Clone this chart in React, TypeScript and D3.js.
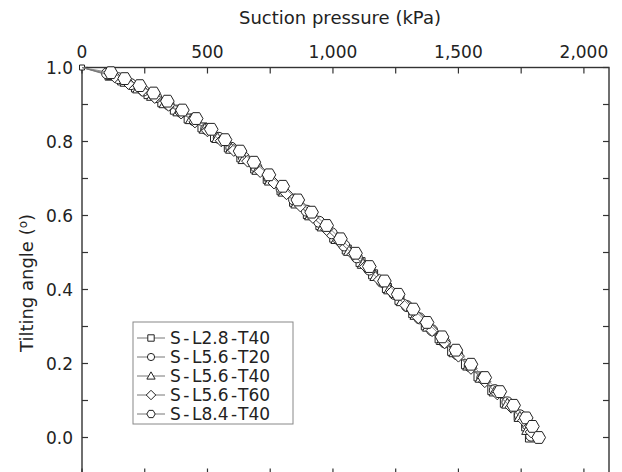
import React, { useRef, useEffect } from "react";
import * as d3 from "d3";

// [suction pressure (kPa), tilting angle (deg)]
const sL28T40 = [
  [0, 1.0], [110, 0.978], [160, 0.965], [215, 0.946], [265, 0.928], [320, 0.906], [370, 0.886],
  [425, 0.862], [480, 0.838], [530, 0.812], [585, 0.784], [635, 0.757], [690, 0.727], [740, 0.699],
  [795, 0.668], [845, 0.637], [900, 0.604], [950, 0.574], [1005, 0.54], [1055, 0.508], [1110, 0.474],
  [1160, 0.441], [1215, 0.404], [1265, 0.372], [1320, 0.336], [1370, 0.303], [1425, 0.268],
  [1475, 0.234], [1530, 0.198], [1580, 0.165], [1635, 0.128], [1685, 0.094], [1740, 0.058],
  [1770, 0.03], [1785, 0.0],
];
const sL56T20 = [
  [100, 0.984], [145, 0.971], [195, 0.955], [245, 0.938], [295, 0.92], [345, 0.9],
  [395, 0.88], [445, 0.858], [495, 0.834], [545, 0.81], [595, 0.783], [645, 0.757], [695, 0.73],
  [745, 0.702], [795, 0.673], [845, 0.643], [895, 0.613], [945, 0.583], [995, 0.552], [1045, 0.519],
  [1095, 0.487], [1145, 0.454], [1195, 0.421], [1245, 0.388], [1295, 0.355], [1345, 0.322],
  [1395, 0.29], [1445, 0.257], [1495, 0.225], [1545, 0.193], [1595, 0.161], [1645, 0.128],
  [1695, 0.095], [1745, 0.06], [1775, 0.035], [1790, 0.005],
];
const sL56T40 = [
  [120, 0.979], [175, 0.961], [225, 0.943], [280, 0.923], [330, 0.903], [385, 0.881],
  [435, 0.86], [490, 0.834], [540, 0.809], [595, 0.78], [645, 0.752], [700, 0.723], [750, 0.694],
  [805, 0.664], [855, 0.632], [910, 0.6], [960, 0.57], [1015, 0.536], [1065, 0.504], [1120, 0.469],
  [1170, 0.436], [1225, 0.4], [1275, 0.368], [1330, 0.331], [1380, 0.299], [1435, 0.263],
  [1485, 0.23], [1540, 0.194], [1590, 0.161], [1645, 0.124], [1695, 0.091], [1745, 0.055],
  [1775, 0.02],
];
const sL56T60 = [
  [130, 0.975], [185, 0.957], [240, 0.938], [290, 0.919], [345, 0.898], [395, 0.877],
  [450, 0.853], [500, 0.829], [555, 0.802], [605, 0.776], [660, 0.747], [710, 0.719], [765, 0.688],
  [815, 0.659], [870, 0.626], [920, 0.595], [975, 0.562], [1025, 0.53], [1080, 0.495], [1130, 0.462],
  [1185, 0.426], [1235, 0.393], [1290, 0.357], [1340, 0.324], [1395, 0.289], [1445, 0.256],
  [1500, 0.22], [1550, 0.187], [1605, 0.151], [1655, 0.118], [1710, 0.082], [1760, 0.046],
  [1790, 0.015],
];
const sL84T40 = [
  [115, 0.986], [170, 0.97], [230, 0.951], [285, 0.931], [340, 0.909], [400, 0.885],
  [455, 0.862], [515, 0.833], [570, 0.805], [630, 0.774], [685, 0.744], [745, 0.71], [800, 0.679],
  [860, 0.642], [915, 0.609], [975, 0.573], [1030, 0.537], [1090, 0.498], [1145, 0.462],
  [1205, 0.423], [1260, 0.387], [1320, 0.347], [1375, 0.311], [1435, 0.272], [1490, 0.236],
  [1550, 0.198], [1605, 0.162], [1665, 0.124], [1720, 0.087], [1770, 0.053], [1795, 0.03],
  [1820, 0.0],
];

const seriesNames = ["S-L2.8-T40", "S-L5.6-T20", "S-L5.6-T40", "S-L5.6-T60", "S-L8.4-T40"];
const seriesData = [sL28T40, sL56T20, sL56T40, sL56T60, sL84T40];
const markerKinds = ["square", "circle", "triangle", "diamond", "hexagon"];

const xTicks = [0, 500, 1000, 1500, 2000];
const yTicks = [0, 0.2, 0.4, 0.6, 0.8, 1.0];

const font = "'DejaVu Sans', Arial, sans-serif";

// marker outline as a path string centred on 0,0
const markerPath = (kind: string, s: number) => {
  if (kind === "square") return `M${-s},${-s}H${s}V${s}H${-s}Z`;
  if (kind === "circle") return d3.symbol(d3.symbolCircle, Math.PI * s * s)() as string;
  if (kind === "triangle") {
    const h = s * 1.15;
    return `M0,${-h}L${h},${h * 0.75}L${-h},${h * 0.75}Z`;
  }
  if (kind === "diamond") {
    const d = s * 1.25;
    return `M0,${-d}L${d},0L0,${d}L${-d},0Z`;
  }
  const pts = d3.range(6).map((i) => {
    const a = (Math.PI / 3) * i;
    return [s * Math.cos(a), s * Math.sin(a)];
  });
  return "M" + pts.map((p) => p.join(",")).join("L") + "Z";
};

const plotSize: Record<string, number> = { square: 4.5, circle: 5.5, triangle: 5, diamond: 4.8, hexagon: 6.8 };
const legendSize: Record<string, number> = { square: 3.2, circle: 3.6, triangle: 3.6, diamond: 3.8, hexagon: 4.2 };

const App = () => {
  const svgRef = useRef<SVGSVGElement>(null);

  useEffect(() => {
    const width = 622;
    const height = 472;
    const left = 82;
    const right = 609;
    const top = 67.5;
    const bottom = 474.5;

    const svg = d3.select(svgRef.current);
    svg.selectAll("*").remove();
    svg.attr("width", width).attr("height", height);

    const x = d3.scaleLinear().domain([0, 2100]).range([left, right]);
    const y = d3.scaleLinear().domain([-0.1, 1.0]).range([bottom, top]);

    const axisColor = "#333";

    // frame
    svg.append("rect")
      .attr("x", left).attr("y", top)
      .attr("width", right - left).attr("height", bottom - top)
      .attr("fill", "none").attr("stroke", axisColor).attr("stroke-width", 1.4);

    // ticks (inward, every 250 kPa / 0.1)
    const xTickVals = d3.range(0, 2001, 250);
    const yTickVals = d3.range(-0.1, 1.001, 0.1);
    const tickLen = 6;
    const ticks = svg.append("g").attr("stroke", axisColor).attr("stroke-width", 1.2);
    xTickVals.forEach((v) => {
      ticks.append("line").attr("x1", x(v)).attr("x2", x(v)).attr("y1", top).attr("y2", top + tickLen);
      ticks.append("line").attr("x1", x(v)).attr("x2", x(v)).attr("y1", bottom).attr("y2", bottom - tickLen);
    });
    yTickVals.forEach((v) => {
      ticks.append("line").attr("x1", left).attr("x2", left + tickLen).attr("y1", y(v)).attr("y2", y(v));
      ticks.append("line").attr("x1", right).attr("x2", right - tickLen).attr("y1", y(v)).attr("y2", y(v));
    });

    // tick labels
    svg.append("g")
      .selectAll("text")
      .data(xTicks)
      .enter()
      .append("text")
      .attr("x", (d) => x(d))
      .attr("y", 58)
      .attr("text-anchor", "middle")
      .attr("font-family", font)
      .attr("font-size", 17)
      .attr("fill", "#222")
      .text((d) => d3.format(",")(d));

    svg.append("g")
      .selectAll("text")
      .data(yTicks)
      .enter()
      .append("text")
      .attr("x", 73)
      .attr("y", (d) => y(d) + 6)
      .attr("text-anchor", "end")
      .attr("font-family", font)
      .attr("font-size", 17)
      .attr("fill", "#222")
      .text((d) => d3.format(".1f")(d));

    // axis titles
    svg.append("text")
      .attr("x", 340).attr("y", 24)
      .attr("text-anchor", "middle")
      .attr("font-family", font).attr("font-size", 18).attr("fill", "#222")
      .text("Suction pressure (kPa)");

    const yTitle = svg.append("text")
      .attr("transform", `translate(33,283) rotate(-90)`)
      .attr("text-anchor", "middle")
      .attr("font-family", font).attr("font-size", 18).attr("fill", "#222");
    yTitle.append("tspan").text("Tilting angle (");
    yTitle.append("tspan").attr("font-size", 12).attr("dy", -6).text("o");
    yTitle.append("tspan").attr("dy", 6).text(")");

    // series
    const line = d3.line<number[]>().x((d) => x(d[0])).y((d) => y(d[1]));
    seriesData.forEach((data, i) => {
      const kind = markerKinds[i];
      const g = svg.append("g");
      g.append("path")
        .attr("d", line(i === 0 ? data : [[0, 1.0], ...data]))
        .attr("fill", "none")
        .attr("stroke", "#777")
        .attr("stroke-width", 0.8);
      g.selectAll(".pt")
        .data(data)
        .enter()
        .append("path")
        .attr("class", "pt")
        .attr("transform", (d) => `translate(${x(d[0])},${y(d[1])})`)
        .attr("d", (d) => markerPath(kind, d[0] === 0 ? 2.5 : plotSize[kind]))
        .attr("fill", "white")
        .attr("stroke", "#222")
        .attr("stroke-width", 1);
    });

    // legend
    const lg = svg.append("g");
    lg.append("rect")
      .attr("x", 133).attr("y", 322).attr("width", 160).attr("height", 102)
      .attr("fill", "white").attr("stroke", "#888").attr("stroke-width", 1);
    seriesNames.forEach((name, i) => {
      const ry = 338 + i * 19;
      const kind = markerKinds[i];
      lg.append("line")
        .attr("x1", 137).attr("x2", 165).attr("y1", ry).attr("y2", ry)
        .attr("stroke", "#777").attr("stroke-width", 1);
      lg.append("path")
        .attr("transform", `translate(151,${ry})`)
        .attr("d", markerPath(kind, legendSize[kind]))
        .attr("fill", "white").attr("stroke", "#222").attr("stroke-width", 1);
      // the hyphens in the original are drawn wide, so pad around them
      const t = lg.append("text")
        .attr("x", 170).attr("y", ry + 6)
        .attr("font-family", font).attr("font-size", 17).attr("fill", "#222");
      name.split("-").forEach((part, j) => {
        if (j > 0) t.append("tspan").attr("dx", 2.5).text("-");
        t.append("tspan").attr("dx", j > 0 ? 2.5 : 0).text(part);
      });
    });
  }, []);

  return <svg ref={svgRef} style={{ position: "absolute", left: 0, top: 0 }}></svg>;
};

export default App;
